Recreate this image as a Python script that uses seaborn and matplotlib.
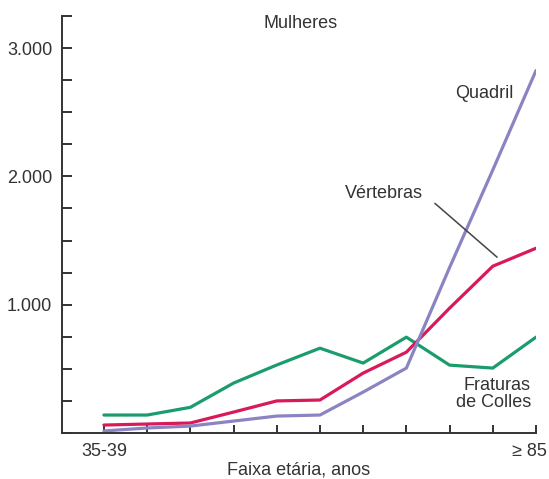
import numpy as np
import pandas as pd
import matplotlib
matplotlib.use("Agg")
import matplotlib.pyplot as plt
import matplotlib.transforms as mtransforms
import seaborn as sns

age_groups = ["35-39", "40-44", "45-49", "50-54", "55-59", "60-64",
              "65-69", "70-74", "75-79", "80-84", "≥ 85"]
colles = [140, 140, 200, 389, 530, 661, 545, 747, 529, 506, 747]
vertebras = [62, 70, 78, 163, 250, 257, 467, 630, 973, 1300, 1440]
quadril = [16, 39, 54, 93, 132, 140, 319, 506, 1290, 2050, 2825]
series_names = ["Fraturas de Colles", "Vértebras", "Quadril"]
yticks_major = [1000, 2000, 3000]
ytick_labels = ["1.000", "2.000", "3.000"]

colors = {"Fraturas de Colles": "#1b9c6c", "Vértebras": "#d81a5a", "Quadril": "#8a84c2"}

rows = []
for name, vals in zip(series_names, [colles, vertebras, quadril]):
    for i, v in enumerate(vals):
        rows.append({"idx": i, "valor": v, "serie": name})
df = pd.DataFrame(rows)

sns.set_style("white")
plt.rcParams['font.family'] = ['Liberation Sans', 'DejaVu Sans']
text_color = "#333333"

fig = plt.figure(figsize=(5.49, 4.79), dpi=100)
ax = fig.add_axes([62/549, (479-433)/479, (536-62)/549, (433-16)/479])

sns.lineplot(data=df, x="idx", y="valor", hue="serie", palette=colors,
             linewidth=2.3, legend=False, ax=ax, hue_order=series_names)

ax.set_xlim(-0.97, 10)
ax.set_ylim(0, 3250)

for s in ["top", "right"]:
    ax.spines[s].set_visible(False)
for s in ["left", "bottom"]:
    ax.spines[s].set_color(text_color)
    ax.spines[s].set_linewidth(1.4)

ytick_vals = np.arange(0, 3251, 250)
ax.set_yticks(ytick_vals)
ax.set_yticklabels(["" if v not in yticks_major else ytick_labels[yticks_major.index(v)]
                    for v in ytick_vals])
ax.set_xticks(range(len(age_groups)))
ax.set_xticklabels([lab if i in (0, len(age_groups) - 1) else ""
                    for i, lab in enumerate(age_groups)])
ax.tick_params(axis="y", which="both", left=True, direction="in", length=7.2, width=1.4,
               color=text_color, labelsize=13, labelcolor=text_color, pad=7)
ax.tick_params(axis="x", which="both", bottom=True, direction="in", length=6, width=1.4,
               color=text_color, labelsize=13, labelcolor=text_color, pad=7)
ax.set_xlabel("Faixa etária, anos", fontsize=13, color=text_color, labelpad=1)
ax.set_ylabel("")

# shift last x tick label slightly left so it stays inside the figure
last = ax.get_xticklabels()[-1]
last.set_transform(last.get_transform() + mtransforms.ScaledTranslation(-7/100, 0, fig.dpi_scale_trans))

ax.text(4.54, 3190, "Mulheres", fontsize=13, color=text_color, ha="center", va="center")
ax.text(8.8, 2646, "Quadril", fontsize=13, color=text_color, ha="center", va="center")
ax.text(6.48, 1868, "Vértebras", fontsize=13, color=text_color, ha="center", va="center")
ax.plot([7.66, 9.1], [1790, 1370], color="#444444", linewidth=1.1)
ax.text(9.88, 303, "Fraturas\nde Colles", fontsize=13, color=text_color,
        ha="right", va="center", multialignment="right", linespacing=1.05)

fig.savefig("out.png", dpi=100)
